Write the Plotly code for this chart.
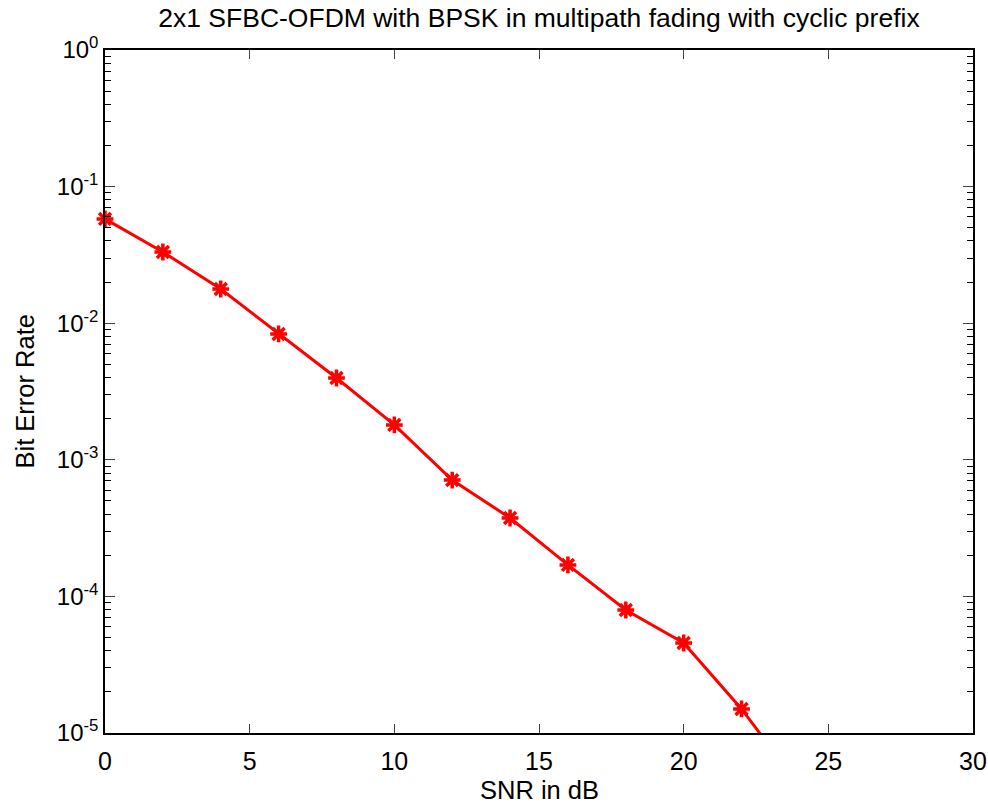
import plotly.graph_objects as go

snr_db = [0, 2, 4, 6, 8, 10, 12, 14, 16, 18, 20, 22, 24]
ber = [0.058, 0.0332, 0.0178, 0.00834, 0.00397, 0.0018, 7.1e-4, 3.75e-4,
       1.70e-4, 7.95e-5, 4.56e-5, 1.5e-5, 4.1e-6]

x_ticks = [0, 5, 10, 15, 20, 25, 30]
y_tickvals = [1, 1e-1, 1e-2, 1e-3, 1e-4, 1e-5]
y_ticktext = ["10<sup>0</sup>", "10<sup>-1</sup>", "10<sup>-2</sup>",
              "10<sup>-3</sup>", "10<sup>-4</sup>", "10<sup>-5</sup>"]
minor_vals = [m * 10 ** e for e in range(-5, 0) for m in range(2, 10)]

font = "Liberation Sans, Arial, sans-serif"

# points inside the visible range get markers drawn unclipped (like MATLAB)
vis = [(x, y) for x, y in zip(snr_db, ber) if y >= 1e-5]

fig = go.Figure()
fig.add_trace(go.Scatter(
    x=snr_db, y=ber, mode="lines",
    line=dict(color="#ff0000", width=3),
    showlegend=False,
))
fig.add_trace(go.Scatter(
    x=[p[0] for p in vis], y=[p[1] for p in vis], mode="markers",
    marker=dict(symbol="asterisk-open", size=14, color="#ff0000",
                line=dict(color="#ff0000", width=3.5)),
    cliponaxis=False, showlegend=False,
))

fig.update_layout(
    width=988, height=803,
    margin=dict(l=105, r=15, t=50, b=70, autoexpand=False),
    paper_bgcolor="white", plot_bgcolor="white",
    font=dict(family=font, color="black", size=24),
    title=dict(text="2x1 SFBC-OFDM with BPSK in multipath fading with cyclic prefix",
               x=0.5455, xanchor="center", y=0.978, yanchor="middle",
               font=dict(size=26.5)),
    xaxis=dict(range=[0, 30], tickvals=x_ticks, ticks="inside", ticklen=9,
               showline=True, linecolor="black", linewidth=1.5, mirror="ticks",
               showgrid=False, zeroline=False, tickfont=dict(size=25),
               ticklabelstandoff=5, automargin=False),
    yaxis=dict(type="log", range=[-5, 0], tickvals=y_tickvals, ticktext=y_ticktext,
               ticks="inside", ticklen=10,
               showline=True, linecolor="black", linewidth=1.5, mirror="ticks",
               showgrid=False, zeroline=False, tickfont=dict(size=24),
               automargin=False,
               minor=dict(ticks="inside", ticklen=6, tickvals=minor_vals,
                          tickcolor="black", showgrid=False)),
    annotations=[
        dict(text="Bit Error Rate", textangle=-90, showarrow=False,
             xref="paper", yref="paper", x=(24 - 105) / 868, y=0.5,
             xanchor="center", yanchor="middle", font=dict(size=25.5)),
        dict(text="SNR in dB", showarrow=False,
             xref="paper", yref="paper", x=0.5, y=(733 - 790) / 683,
             xanchor="center", yanchor="middle", font=dict(size=25.5)),
    ],
)

fig.write_html("out.html")
